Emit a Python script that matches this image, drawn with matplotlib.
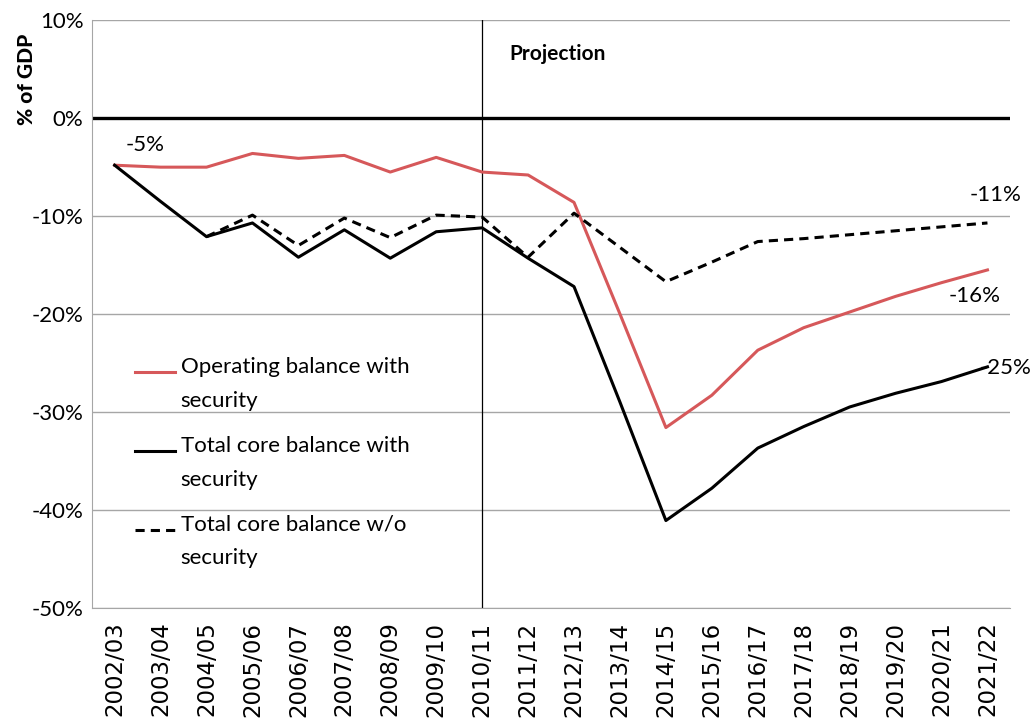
import numpy as np
import matplotlib
matplotlib.use('Agg')
import matplotlib.pyplot as plt
from matplotlib.lines import Line2D

# fiscal years on the x axis
years = ['2002/03', '2003/04', '2004/05', '2005/06', '2006/07', '2007/08', '2008/09',
         '2009/10', '2010/11', '2011/12', '2012/13', '2013/14', '2014/15', '2015/16',
         '2016/17', '2017/18', '2018/19', '2019/20', '2020/21', '2021/22']

# % of GDP
operating_sec = [-4.8, -5.0, -5.0, -3.6, -4.1, -3.8, -5.5, -4.0, -5.5, -5.8,
                 -8.6, -20.0, -31.6, -28.3, -23.7, -21.4, -19.8, -18.2, -16.8, -15.5]
core_sec = [-4.8, -8.5, -12.1, -10.7, -14.2, -11.4, -14.3, -11.6, -11.2, -14.3,
            -17.2, -29.0, -41.1, -37.8, -33.7, -31.5, -29.5, -28.1, -26.9, -25.4]
core_nosec = [np.nan, np.nan, -12.1, -9.9, -13.0, -10.2, -12.2, -9.9, -10.1, -14.2,
              -9.7, -13.2, -16.7, -14.7, -12.6, -12.3, -11.9, -11.5, -11.1, -10.7]

labels = ['Operating balance with\nsecurity', 'Total core balance with\nsecurity',
          'Total core balance w/o\nsecurity']
red = '#D6585A'

plt.rcParams['font.family'] = ['Lato', 'DejaVu Sans']
fig = plt.figure(figsize=(10.3, 7.26), dpi=100)
ax = fig.add_axes([0.089, 0.163, 0.892, 0.809])

x = np.arange(len(years))
ax.set_ylim(-50, 10)
ax.set_xlim(-0.5, len(years) - 0.5)
ax.set_yticks(np.arange(-50, 11, 10))
ax.set_yticklabels(['%d%%' % v for v in range(-50, 11, 10)], fontsize=16)
ax.yaxis.grid(True, color='#A6A6A6', linewidth=1)
ax.set_axisbelow(True)
ax.axhline(0, color='black', linewidth=2.4, zorder=2)
ax.axvline(8, color='black', linewidth=0.9, zorder=2)

ax.plot(x, operating_sec, color=red, linewidth=2.2, zorder=3)
ax.plot(x, core_sec, color='black', linewidth=2.2, zorder=4)
ax.plot(x, core_nosec, color='black', linewidth=2.2, linestyle=(0, (3, 2)), zorder=4)

ax.set_xticks(x)
ax.set_xticklabels(years, rotation=90, fontsize=16.5, family='DejaVu Sans')
ax.tick_params(axis='both', length=0, pad=6)
ax.tick_params(axis='x', pad=10)

for s in ['top', 'right']:
    ax.spines[s].set_visible(False)
for s in ['left', 'bottom']:
    ax.spines[s].set_color('#A6A6A6')

ax.set_ylabel('% of GDP', fontsize=15, fontweight='black')
ax.yaxis.set_label_coords(-0.061, 0.90)

ax.text(8.6, 6.6, 'Projection', fontsize=15, fontweight='bold', va='center')
ax.annotate('%d%%' % round(operating_sec[0]), (0, operating_sec[0]), xytext=(8, 10),
            textcoords='offset points', fontsize=16)
ax.annotate('%d%%' % round(core_nosec[-1]), (19, core_nosec[-1]), xytext=(-13, 16),
            textcoords='offset points', fontsize=16)
ax.annotate('%d%%' % round(operating_sec[-1]), (19, operating_sec[-1]), xytext=(-28, -23),
            textcoords='offset points', fontsize=16)
ax.annotate('%d%%' % round(core_sec[-1]), (19, core_sec[-1]), xytext=(-6, -5),
            textcoords='offset points', fontsize=16)

# legend drawn by hand so the key sits on the first text line
styles = [dict(color=red, linestyle='-'), dict(color='black', linestyle='-'),
          dict(color='black', linestyle=(0, (3, 2)))]
for i, (lab, st) in enumerate(zip(labels, styles)):
    yy = 0.401 - i * 0.134
    ax.add_line(Line2D([0.047, 0.091], [yy, yy], transform=ax.transAxes, linewidth=2.2, **st))
    ax.text(0.097, yy + 0.025, lab, transform=ax.transAxes, fontsize=16, va='top',
            linespacing=1.85)

fig.savefig('out.png', dpi=100)
